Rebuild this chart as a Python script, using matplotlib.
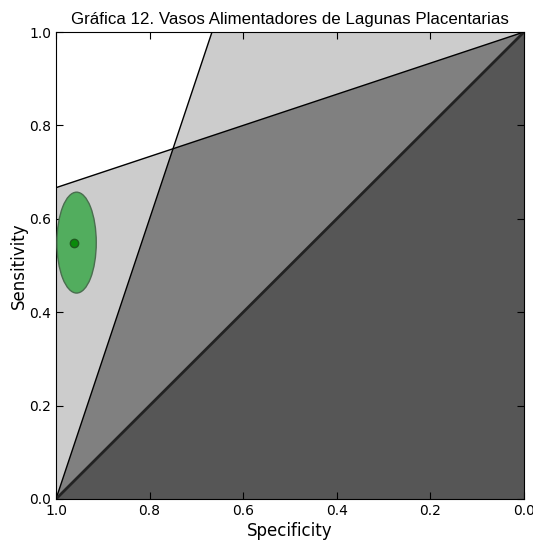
import numpy as np
import matplotlib as mpl
mpl.use('Agg')
import matplotlib.pyplot as plt
import matplotlib.patches as patches

# likelihood ratio lines
lr_pos = 3.0
lr_neg = 1.0 / 3.0

# study estimate and its confidence ellipse
spec_est = 0.962
sens_est = 0.549
ell_center = (0.956, 0.549)
ell_width = 0.084
ell_height = 0.216

title = 'Gráfica 12. Vasos Alimentadores de Lagunas Placentarias'

def pos_line(spec):
	return lr_pos * (1 - spec)

def neg_line(spec):
	return 1 - lr_neg * spec

# crossing of the two lines
spec_x = (lr_pos - 1) / (lr_pos - lr_neg)
sens_x = pos_line(spec_x)
spec_top = 1 - 1 / lr_pos  # where LR+ line reaches sens = 1

fig = plt.figure(figsize=(5.33, 5.42), dpi=100)
ax = fig.add_axes([56/533, 43/542, 468/533, 467/542])

dark = '#565656'
mid = '#808080'
light = '#cccccc'

# white above both lines
ax.add_patch(patches.Polygon([(1, neg_line(1)), (1, 1), (spec_top, 1), (spec_x, sens_x)],
	closed=True, facecolor='white', edgecolor='none'))
# light gray: above one line only
ax.add_patch(patches.Polygon([(1, 0), (1, neg_line(1)), (spec_x, sens_x)],
	closed=True, facecolor=light, edgecolor='none'))
ax.add_patch(patches.Polygon([(spec_x, sens_x), (spec_top, 1), (0, 1)],
	closed=True, facecolor=light, edgecolor='none'))
# medium gray: below both lines, above diagonal
ax.add_patch(patches.Polygon([(1, 0), (spec_x, sens_x), (0, 1)],
	closed=True, facecolor=mid, edgecolor='none'))
# dark gray: below diagonal
ax.add_patch(patches.Polygon([(1, 0), (0, 1), (0, 0)],
	closed=True, facecolor=dark, edgecolor='none'))

ax.plot([1, spec_top], [0, 1], color='k', lw=1)
ax.plot([1, 0], [neg_line(1), 1], color='k', lw=1)
ax.plot([1, 0], [0, 1], color='#222222', lw=2)

ell = patches.Ellipse(ell_center, ell_width, ell_height, facecolor='#52ad5e',
	edgecolor='#4a6e4f', lw=1, zorder=3)
ax.add_patch(ell)
ax.plot(spec_est, sens_est, 'o', color='#0a8a0a', mec='#1f5a1f', ms=6, zorder=4)

ax.set_xlim(1, 0)
ax.set_ylim(0, 1)
ax.set_xticks([1.0, 0.8, 0.6, 0.4, 0.2, 0.0])
ax.set_yticks([0.0, 0.2, 0.4, 0.6, 0.8, 1.0])
ax.xaxis.set_major_formatter(mpl.ticker.FormatStrFormatter('%.1f'))
ax.yaxis.set_major_formatter(mpl.ticker.FormatStrFormatter('%.1f'))
ax.tick_params(direction='in', top=True, right=True, length=5, labelsize=10)
ax.set_xlabel('Specificity', fontsize=12, labelpad=3)
ax.set_ylabel('Sensitivity', fontsize=12, labelpad=1)
ax.set_title(title, fontsize=12.2, family='Liberation Sans', pad=6)

fig.savefig('out.png', dpi=100)
